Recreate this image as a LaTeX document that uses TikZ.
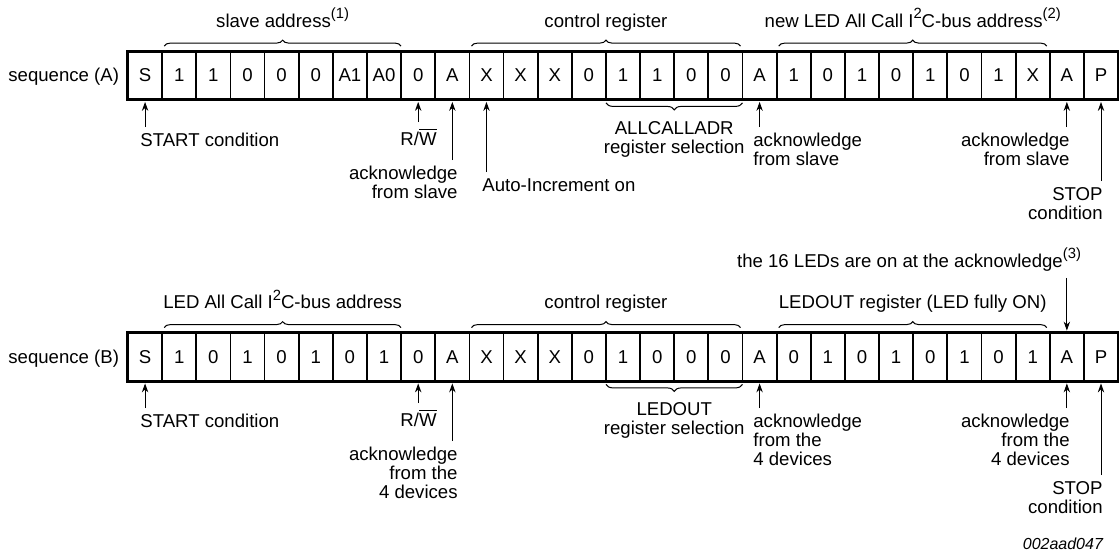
\documentclass[tikz,border=0pt]{standalone}
\usepackage{fontspec}
\setmainfont{Liberation Sans}
\usetikzlibrary{arrows.meta,decorations.pathreplacing}
\newcommand{\supnote}[1]{\raisebox{0.45em}{\fontsize{7.4}{8}\selectfont#1}}

\begin{document}
\begin{tikzpicture}[x=0.5pt, y=-0.5pt, >={Stealth[length=4.5pt,width=3.2pt]},
  every node/.style={font=\fontsize{9.3}{9.4}\selectfont},
  cell/.style={draw, line width=0.9pt, minimum width=17.07pt, minimum height=23.5pt, inner sep=0pt},
  lbl/.style={inner xsep=0pt, inner ysep=3pt},
  brc/.style={decorate, decoration={brace, amplitude=3pt}, line width=0.5pt},
  brcdown/.style={decorate, decoration={brace, mirror, amplitude=3.5pt}, line width=0.5pt},
  arr/.style={->, line width=0.5pt, shorten >=1pt}]
  \useasboundingbox (0,0) rectangle (1119,557);

  % sequence (A)
  \foreach \v [count=\i from 0] in {S,1,1,0,0,0,A1,A0,0,A,X,X,X,0,1,1,0,0,A,1,0,1,0,1,0,1,X,A,P}
    \node[cell] (a\i) at ({128+34.14*(\i+0.5)},75.5) {\v};
  \draw[line width=1.3pt] (a0.north west) rectangle (a28.south east);
  \node[anchor=base east] (seqA) at ([xshift=-0.5pt]a0.base west) {sequence (A)};

  \draw[brc] ([xshift=1.5pt,yshift=2.5pt]a1.north west) -- node[midway, anchor=base, yshift=9.5pt] (slvA) {slave address\supnote{(1)}} ([xshift=-0.5pt,yshift=2.5pt]a7.north east);
  \draw[brc] ([xshift=1.5pt,yshift=2.5pt]a10.north west) -- node[midway, anchor=base, yshift=9.5pt] (ctlA) {control register} ([xshift=-1.5pt,yshift=2.5pt]a17.north east);
  \draw[brc] ([xshift=1.5pt,yshift=2.5pt]a19.north west) -- node[midway, anchor=base, yshift=9.5pt] (newA) {new LED All Call I\supnote{2}C-bus address\supnote{(2)}} ([xshift=-2pt,yshift=2.5pt]a26.north east);
  \draw[brcdown] ([xshift=0.5pt,yshift=-1.5pt]a14.south west) -- node[midway, lbl, anchor=north, yshift=-6pt, align=center] (selA) {ALLCALLADR\\register selection} ([xshift=-0.5pt,yshift=-1.5pt]a17.south east);

  \node[lbl, anchor=north west] (startA) at (140,127) {START condition};
  \node[lbl, anchor=north east] (rwA) at (437,122) {R/\(\overline{\hbox{W}}\)};
  \node[lbl, anchor=north east, align=right] (ackA1) at (458,160) {acknowledge\\from slave};
  \node[lbl, anchor=north west] (autoA) at (482,172) {Auto-Increment on};
  \node[lbl, anchor=north west, align=left] (ackA2) at (753,127) {acknowledge\\from slave};
  \node[lbl, anchor=north east, align=right] (ackA3) at (1070,127) {acknowledge\\from slave};
  \node[lbl, anchor=north east, align=right] (stopA) at (1103,181) {STOP\\condition};

  \draw[arr] (startA.north -| a0) -- (a0.south);
  \draw[arr] (rwA.north -| a8) -- (a8.south);
  \draw[arr] (ackA1.north -| a9) -- (a9.south);
  \draw[arr] (autoA.north -| a10) -- (a10.south);
  \draw[arr] (ackA2.north -| a18) -- (a18.south);
  \draw[arr] (ackA3.north -| a27) -- (a27.south);
  \draw[arr] (stopA.north -| a28) -- (a28.south);

  % sequence (B)
  \foreach \v [count=\i from 0] in {S,1,0,1,0,1,0,1,0,A,X,X,X,0,1,0,0,0,A,0,1,0,1,0,1,0,1,A,P}
    \node[cell] (b\i) at ({128+34.14*(\i+0.5)},357) {\v};
  \draw[line width=1.3pt] (b0.north west) rectangle (b28.south east);
  \node[anchor=base east] (seqB) at ([xshift=-0.5pt]b0.base west) {sequence (B)};

  \draw[brc] ([xshift=1.5pt,yshift=2.5pt]b1.north west) -- node[midway, anchor=base, yshift=9.5pt] (ledB) {LED All Call I\supnote{2}C-bus address} ([xshift=-0.5pt,yshift=2.5pt]b7.north east);
  \draw[brc] ([xshift=1.5pt,yshift=2.5pt]b10.north west) -- node[midway, anchor=base, yshift=9.5pt] (ctlB) {control register} ([xshift=-1.5pt,yshift=2.5pt]b17.north east);
  \draw[brc] ([xshift=1.5pt,yshift=2.5pt]b19.north west) -- node[midway, anchor=base, yshift=9.5pt] (outB) {LEDOUT register (LED fully ON)} ([xshift=-2pt,yshift=2.5pt]b26.north east);
  \draw[brcdown] ([xshift=0.5pt,yshift=-1.5pt]b14.south west) -- node[midway, lbl, anchor=north, yshift=-6pt, align=center] (selB) {LEDOUT\\register selection} ([xshift=-0.5pt,yshift=-1.5pt]b17.south east);

  \node[anchor=base east] (noteB) at (1088,267) {the 16 LEDs are on at the acknowledge\supnote{(3)}};
  \draw[arr] (noteB.south -| b27) -- (b27.north);

  \node[lbl, anchor=north west] (startB) at (140,408) {START condition};
  \node[lbl, anchor=north east] (rwB) at (437,403) {R/\(\overline{\hbox{W}}\)};
  \node[lbl, anchor=north east, align=right] (ackB1) at (458,441) {acknowledge\\from the\\4 devices};
  \node[lbl, anchor=north west, align=left] (ackB2) at (753,408) {acknowledge\\from the\\4 devices};
  \node[lbl, anchor=north east, align=right] (ackB3) at (1070,408) {acknowledge\\from the\\4 devices};
  \node[lbl, anchor=north east, align=right] (stopB) at (1103,475) {STOP\\condition};

  \draw[arr] (startB.north -| b0) -- (b0.south);
  \draw[arr] (rwB.north -| b8) -- (b8.south);
  \draw[arr] (ackB1.north -| b9) -- (b9.south);
  \draw[arr] (ackB2.north -| b18) -- (b18.south);
  \draw[arr] (ackB3.north -| b27) -- (b27.south);
  \draw[arr] (stopB.north -| b28) -- (b28.south);

  \node[anchor=base east, font=\fontsize{8}{9}\selectfont\itshape] (code) at (1110,549) {002aad047};
\end{tikzpicture}
\end{document}
